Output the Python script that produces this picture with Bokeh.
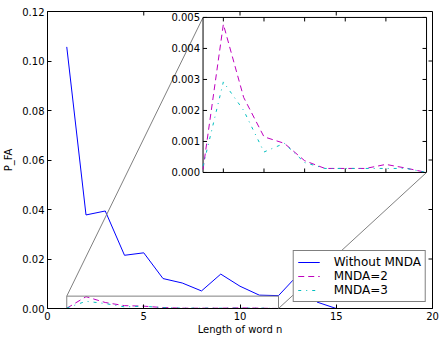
import math
from bokeh.plotting import figure
from bokeh.models import Range1d, FixedTicker, NumeralTickFormatter, ColumnDataSource
from bokeh.core.properties import value
from bokeh.embed import file_html
from bokeh.resources import INLINE

# ---- data ----
word_len = list(range(1, 21))
without_mnda = [0.1057, 0.0378, 0.0394, 0.0215, 0.0225, 0.0121, 0.0103, 0.0071, 0.0139, 0.0090,
                0.0054, 0.0052, 0.0135, 0.0026, 0.0, 0.0, 0.0, 0.0, 0.0, 0.0]
mnda2 = [0.0001, 0.00478, 0.00242, 0.00115, 0.00094, 0.00038, 0.00013, 0.00013, 0.00013, 0.00026,
         0.00014, 0.0, 0.0, 0.0, 0.0, 0.0, 0.0, 0.0, 0.0, 0.0]
mnda3 = [0.0002, 0.00292, 0.00200, 0.00066, 0.00094, 0.00032, 0.00013, 0.00013, 0.00013, 0.00013,
         0.00013, 0.0, 0.0, 0.0, 0.0, 0.0, 0.0, 0.0, 0.0, 0.0]

x_ticks = [0, 5, 10, 15, 20]
y_ticks = [0.0, 0.02, 0.04, 0.06, 0.08, 0.10, 0.12]
inset_x_ticks = [2, 4, 6, 8, 10]
inset_y_ticks = [0.0, 0.001, 0.002, 0.003, 0.004, 0.005]
inset_y_labels = ["%.3f" % v for v in inset_y_ticks]

# zoom window (data units) and inset placement (fraction of main axes)
IX0, IX1, IY0, IY1 = 1, 12, 0.0, 0.005
FL, FR, FB, FT = 0.404, 0.9845, 0.458, 0.980

FONT = "DejaVu Sans"
BLUE, MAG, CYAN, GRAY = "#0000ff", "#bf00bf", "#00bfbf", "#808080"

X0, X1, Y0, Y1 = 0, 20, 0.0, 0.12
p = figure(width=440, height=340, x_range=Range1d(X0, X1), y_range=Range1d(Y0, Y1),
           output_backend="svg", toolbar_location=None,
           min_border_left=46, min_border_right=8, min_border_top=11, min_border_bottom=32)
p.background_fill_color = "white"
p.border_fill_color = "white"
p.outline_line_color = "black"
p.outline_line_width = 1
p.xgrid.visible = False
p.ygrid.visible = False

for ax in (p.xaxis[0], p.yaxis[0]):
    ax.major_tick_in = 4
    ax.major_tick_out = 0
    ax.minor_tick_line_color = None
    ax.axis_line_color = "black"
    ax.major_tick_line_color = "black"
    ax.major_label_text_font = FONT
    ax.major_label_text_font_size = "10px"
    ax.major_label_text_color = "black"
    ax.axis_label_text_font = FONT
    ax.axis_label_text_font_style = "normal"
    ax.axis_label_text_font_size = "10px"
    ax.axis_label_text_color = "black"
p.xaxis[0].major_label_standoff = 3
p.xaxis[0].axis_label_standoff = 1
p.yaxis[0].major_label_standoff = 3
p.yaxis[0].axis_label_standoff = 5

p.xaxis.ticker = FixedTicker(ticks=x_ticks)
p.yaxis.ticker = FixedTicker(ticks=y_ticks)
p.yaxis.formatter = NumeralTickFormatter(format="0.00")
p.xaxis.axis_label = "Length of word n"
p.yaxis.axis_label = "P_FA"

# inward ticks on the top and right spines
p.ray(x=x_ticks, y=[Y1] * len(x_ticks), length=4, angle=-math.pi / 2, length_units="screen",
      line_color="black", line_width=1)
p.ray(x=[X1] * len(y_ticks), y=y_ticks, length=4, angle=math.pi, length_units="screen",
      line_color="black", line_width=1)

# main lines
src = ColumnDataSource(dict(x=word_len, a=without_mnda, b=mnda2, c=mnda3))
p.line("x", "a", source=src, line_color=BLUE, line_width=1, legend_label="Without MNDA")
p.line("x", "b", source=src, line_color=MAG, line_width=1, line_dash="6 4", legend_label="MNDA=2")
p.line("x", "c", source=src, line_color=CYAN, line_width=1, line_dash="3 5 1 5", legend_label="MNDA=3")

# zoom rectangle in main axes
p.quad(left=[IX0], right=[IX1], bottom=[IY0], top=[IY1], fill_color=None, line_color=GRAY, line_width=1)

# inset ranges mapped onto the frame
span_x = (IX1 - IX0) / (FR - FL)
span_y = (IY1 - IY0) / (FT - FB)
p.extra_x_ranges = {"ix": Range1d(IX0 - FL * span_x, IX0 + (1 - FL) * span_x)}
p.extra_y_ranges = {"iy": Range1d(IY0 - FB * span_y, IY0 + (1 - FB) * span_y)}
R = dict(x_range_name="ix", y_range_name="iy")

cx_tl = X0 + FL * (X1 - X0)
cy_tl = Y0 + FT * (Y1 - Y0)
cx_br = X0 + FR * (X1 - X0)
cy_br = Y0 + FB * (Y1 - Y0)
# connector 1 (top-left corners), under inset labels
p.segment(x0=[IX0], y0=[IY1], x1=[cx_tl], y1=[cy_tl], line_color=GRAY, line_width=1)

# inset panel
p.quad(left=[IX0], right=[IX1], bottom=[IY0], top=[IY1], fill_color="white",
       line_color="black", line_width=1, **R)
inset_src = ColumnDataSource(dict(
    x=[x for x in word_len if IX0 <= x <= IX1],
    b=[v for x, v in zip(word_len, mnda2) if IX0 <= x <= IX1],
    c=[v for x, v in zip(word_len, mnda3) if IX0 <= x <= IX1]))
p.line("x", "b", source=inset_src, line_color=MAG, line_width=1, line_dash="6 4", **R)
p.line("x", "c", source=inset_src, line_color=CYAN, line_width=1, line_dash="3 5 1 5", **R)

# inset ticks (inward)
n = len(inset_x_ticks)
p.ray(x=inset_x_ticks, y=[IY0] * n, length=4, angle=math.pi / 2, length_units="screen",
      line_color="black", line_width=1, **R)
p.ray(x=inset_x_ticks, y=[IY1] * n, length=4, angle=-math.pi / 2, length_units="screen",
      line_color="black", line_width=1, **R)
m = len(inset_y_ticks)
p.ray(x=[IX0] * m, y=inset_y_ticks, length=4, angle=0, length_units="screen",
      line_color="black", line_width=1, **R)
p.ray(x=[IX1] * m, y=inset_y_ticks, length=4, angle=math.pi, length_units="screen",
      line_color="black", line_width=1, **R)
p.text(x=[IX0] * m, y=inset_y_ticks, text=inset_y_labels, x_offset=-3,
       text_align="right", text_baseline="middle", text_font=value(FONT),
       text_font_size="10px", text_color="black", **R)

# connector 2 (bottom-right corners), above legend
c2 = p.segment(x0=[IX1], y0=[IY0], x1=[cx_br], y1=[cy_br], line_color=GRAY, line_width=1)
c2.level = "overlay"

# legend
lg = p.legend[0]
lg.location = "bottom_right"
lg.margin = 6
lg.padding = 4
lg.spacing = 0
lg.glyph_width = 22
lg.glyph_height = 14
lg.label_height = 14
lg.label_standoff = 14
lg.label_text_font = FONT
lg.label_text_font_size = "12px"
lg.label_text_color = "black"
lg.border_line_color = "black"
lg.border_line_width = 1
lg.background_fill_color = "white"
lg.background_fill_alpha = 1.0

open("out.html", "w").write(file_html(p, INLINE))
